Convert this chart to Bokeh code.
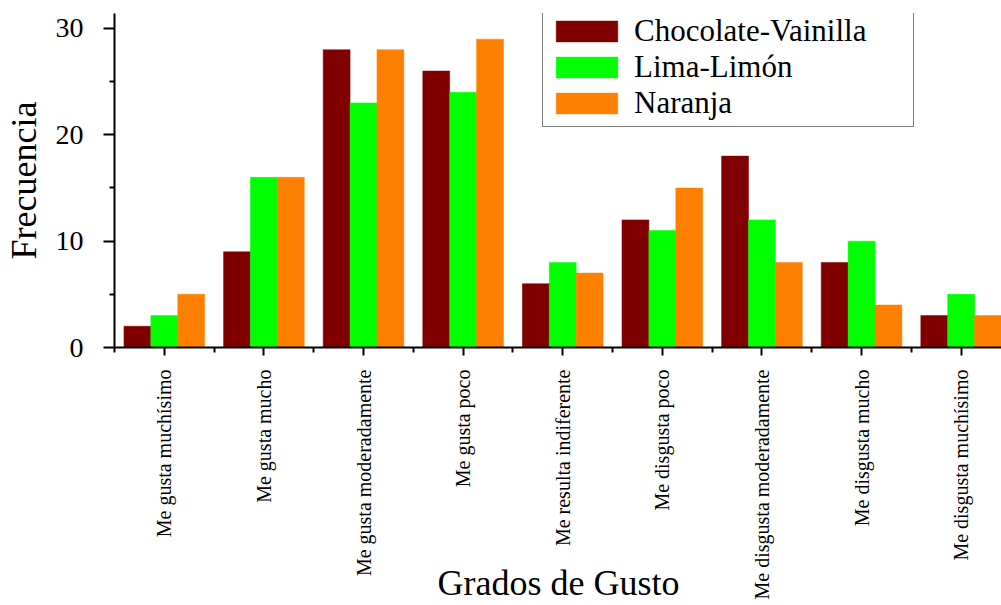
import math
import numpy as np
from bokeh.plotting import figure
from bokeh.models import Range1d, FixedTicker, ColumnDataSource, Legend, LegendItem
from bokeh.transform import dodge
from bokeh.embed import file_html
from bokeh.resources import INLINE

categories = ["Me gusta muchísimo", "Me gusta mucho", "Me gusta moderadamente",
              "Me gusta poco", "Me resulta indiferente", "Me disgusta poco",
              "Me disgusta moderadamente", "Me disgusta mucho", "Me disgusta muchísimo"]
chocolate_vainilla = [2, 9, 28, 26, 6, 12, 18, 8, 3]
lima_limon = [3, 16, 23, 24, 8, 11, 12, 10, 5]
naranja = [5, 16, 28, 29, 7, 15, 8, 4, 3]
series_names = ["Chocolate-Vainilla", "Lima-Limón", "Naranja"]
series_colors = ["#800000", "#00FF00", "#FF8000"]
y_ticks = [0, 10, 20, 30]
y_minor = [5, 15, 25]

FONT = "Liberation Serif"

pos = np.arange(1, len(categories) + 1)
src = ColumnDataSource(dict(x=pos, cv=chocolate_vainilla, ll=lima_limon, na=naranja))

p = figure(frame_width=888, frame_height=334, output_backend="svg", toolbar_location=None,
           x_range=Range1d(0.5, 9.415), y_range=Range1d(0, 31.41),
           min_border_left=113, min_border_top=13, min_border_right=0, min_border_bottom=0)
p.outline_line_color = None
p.xgrid.grid_line_color = None
p.ygrid.grid_line_color = None
p.background_fill_color = "white"
p.border_fill_color = "white"

bw = 0.27
renderers = []
for key, off, col in zip(["cv", "ll", "na"], [-bw, 0, bw], series_colors):
    r = p.vbar(x=dodge("x", off), top=key, width=bw, bottom=0, source=src,
               fill_color=col, line_color=col, line_width=0.5)
    renderers.append(r)

# axes
xa = p.xaxis[0]
xa.ticker = FixedTicker(ticks=list(pos), minor_ticks=[v + 0.5 for v in range(0, len(categories) + 1)])
xa.major_label_overrides = {int(i): c for i, c in zip(pos, categories)}
xa.major_label_orientation = math.pi / 2
xa.major_label_text_font = FONT
xa.major_label_text_font_size = "20px"
xa.major_label_text_color = "black"
xa.major_label_standoff = 14
xa.major_tick_out = 8
xa.major_tick_in = 0
xa.minor_tick_out = 5
xa.minor_tick_in = 0
xa.axis_line_width = 2
xa.major_tick_line_width = 2
xa.minor_tick_line_width = 2
xa.axis_label = "Grados de Gusto"
xa.axis_label_text_font = FONT
xa.axis_label_text_font_size = "36px"
xa.axis_label_text_font_style = "normal"
xa.axis_label_text_color = "black"
xa.axis_label_standoff = -39

ya = p.yaxis[0]
ya.ticker = FixedTicker(ticks=y_ticks, minor_ticks=y_minor)
ya.major_label_text_font = FONT
ya.major_label_text_font_size = "28px"
ya.major_label_text_color = "black"
ya.major_label_standoff = 20
ya.major_tick_out = 11
ya.major_tick_in = 0
ya.minor_tick_out = 5
ya.minor_tick_in = 0
ya.axis_line_width = 2
ya.major_tick_line_width = 2
ya.minor_tick_line_width = 2
ya.axis_label = "Frecuencia"
ya.axis_label_text_font = FONT
ya.axis_label_text_font_size = "36px"
ya.axis_label_text_font_style = "normal"
ya.axis_label_text_color = "black"
ya.axis_label_standoff = 9

legend = Legend(items=[LegendItem(label=n, renderers=[r]) for n, r in zip(series_names, renderers)],
                location=(428, 220))
legend.label_text_font = FONT
legend.label_text_font_size = "31px"
legend.label_text_color = "black"
legend.glyph_width = 77
legend.glyph_height = 26
legend.label_height = 26
legend.label_width = 274
legend.label_standoff = 9
legend.spacing = 0
legend.padding = 5
legend.margin = 0
legend.border_line_color = "black"
legend.border_line_width = 1.5
legend.background_fill_alpha = 1
p.add_layout(legend, "center")

open("out.html", "w").write(file_html(p, INLINE))
